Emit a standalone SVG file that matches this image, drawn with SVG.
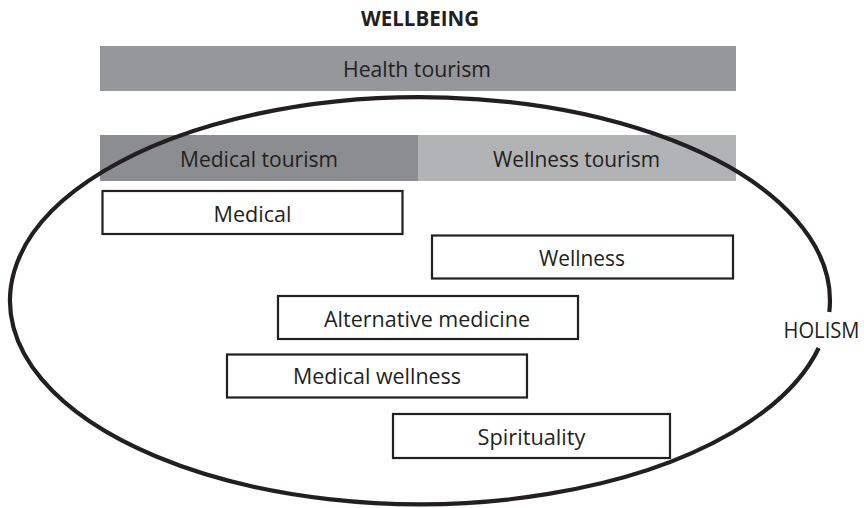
<svg xmlns="http://www.w3.org/2000/svg" width="864" height="508" viewBox="0 0 864 508">
<style>
text{font-family:"Open Sans","Liberation Sans",Arial,sans-serif;font-size:21.5px;fill:#231f20;text-anchor:middle}
.title{font-weight:bold;font-size:21px}
.box{fill:#ffffff;stroke:#231f20;stroke-width:2.2}
.ell{fill:none;stroke:#231f20;stroke-width:4.2}
</style>
<rect width="864" height="508" fill="#ffffff"/>
<text class="title" x="420" y="26" textLength="118" lengthAdjust="spacingAndGlyphs">WELLBEING</text>
<g id="health-tourism">
<rect x="100" y="46" width="636" height="45" fill="#96979a"/>
<text x="417" y="77" textLength="148" lengthAdjust="spacingAndGlyphs">Health tourism</text>
</g>
<g id="medical-tourism">
<rect x="100" y="135" width="318" height="46" fill="#8c8d90"/>
<text x="259" y="167" textLength="158" lengthAdjust="spacingAndGlyphs">Medical tourism</text>
</g>
<g id="wellness-tourism">
<rect x="418" y="135" width="318" height="46" fill="#b2b3b5"/>
<text x="576.5" y="167" textLength="167" lengthAdjust="spacingAndGlyphs">Wellness tourism</text>
</g>
<g id="holism">
<path class="ell" d="M 829.3 312 A 410 203.5 0 1 0 818.7 348"/>
<text x="821.5" y="338" textLength="76" lengthAdjust="spacingAndGlyphs">HOLISM</text>
</g>
<g id="medical">
<rect class="box" x="102.5" y="191" width="300" height="43"/>
<text x="252.5" y="222" textLength="78" lengthAdjust="spacingAndGlyphs">Medical</text>
</g>
<g id="wellness">
<rect class="box" x="432" y="235.5" width="301" height="43"/>
<text x="582" y="266" textLength="86" lengthAdjust="spacingAndGlyphs">Wellness</text>
</g>
<g id="alternative-medicine">
<rect class="box" x="278" y="296" width="300" height="43"/>
<text x="427" y="327" textLength="206" lengthAdjust="spacingAndGlyphs">Alternative medicine</text>
</g>
<g id="medical-wellness">
<rect class="box" x="227" y="354.5" width="300" height="43"/>
<text x="377" y="384" textLength="168" lengthAdjust="spacingAndGlyphs">Medical wellness</text>
</g>
<g id="spirituality">
<rect class="box" x="393" y="414" width="277" height="44"/>
<text x="531.5" y="445" textLength="108" lengthAdjust="spacingAndGlyphs">Spirituality</text>
</g>
<g id="connectors"></g>
</svg>
